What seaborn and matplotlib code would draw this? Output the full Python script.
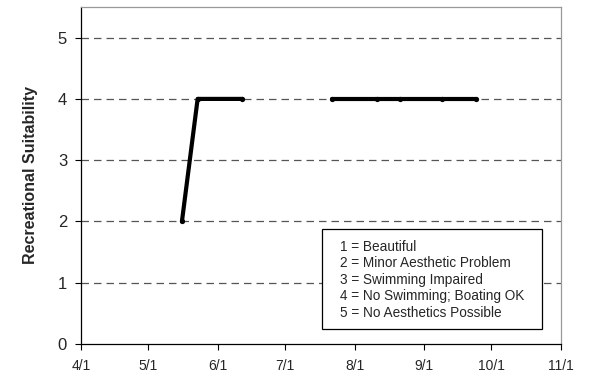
import matplotlib
matplotlib.use("Agg")
import matplotlib.pyplot as plt
from matplotlib.patches import Rectangle
import seaborn as sns
import pandas as pd
import numpy as np

sns.set_theme(style="white")
plt.rcParams['font.family'] = ['Liberation Sans', 'DejaVu Sans']

# Data
dates_a = ["2003-05-16", "2003-05-23", "2003-06-12"]
values_a = [2, 4, 4]
dates_b = ["2003-07-22", "2003-08-11", "2003-08-21", "2003-09-09", "2003-09-24"]
values_b = [4, 4, 4, 4, 4]
tick_dates = ["2003-04-01", "2003-05-01", "2003-06-01", "2003-07-01",
              "2003-08-01", "2003-09-01", "2003-10-01", "2003-11-01"]
tick_labels = ["4/1", "5/1", "6/1", "7/1", "8/1", "9/1", "10/1", "11/1"]
legend_lines = ["1 = Beautiful", "2 = Minor Aesthetic Problem", "3 = Swimming Impaired",
                "4 = No Swimming; Boating OK", "5 = No Aesthetics Possible"]

df_a = pd.DataFrame({"date": pd.to_datetime(dates_a), "value": values_a})
df_b = pd.DataFrame({"date": pd.to_datetime(dates_b), "value": values_b})

W, H = 589, 381
fig = plt.figure(figsize=(W / 100, H / 100), dpi=100)
ax = fig.add_axes([81 / W, 1 - 344 / H, (561 - 81) / W, (344 - 7) / H])

for y in [1, 2, 3, 4, 5]:
    ax.axhline(y, color="#555555", lw=0.9, ls=(0, (6, 4)), zorder=1)

for d in (df_a, df_b):
    sns.lineplot(data=d, x="date", y="value", ax=ax, color="black", lw=3.0,
                 marker="o", markersize=3.8, markeredgewidth=0, zorder=3, legend=False)

ax.set_xlim(pd.Timestamp(tick_dates[0]), pd.Timestamp(tick_dates[-1]))
ax.set_ylim(0, 5.5)
ax.set_xticks(pd.to_datetime(tick_dates))
ax.set_xticklabels(tick_labels, fontsize=10)
ax.set_yticks([0, 1, 2, 3, 4, 5])
ax.set_yticklabels(["0", "1", "2", "3", "4", "5"], fontsize=12)
ax.tick_params(axis="both", direction="out", length=4, width=0.8, color="black",
               bottom=True, left=True)
ax.tick_params(axis="x", pad=7)
ax.tick_params(axis="y", pad=6)
ax.set_xlabel("")
ax.set_ylabel("Recreational Suitability", fontsize=11.5, fontweight="bold", labelpad=14)

for side in ["left", "bottom"]:
    ax.spines[side].set_color("black")
    ax.spines[side].set_linewidth(0.9)
for side in ["top", "right"]:
    ax.spines[side].set_color("#999999")
    ax.spines[side].set_linewidth(0.9)

# legend box
x0, x1 = 0.502, 0.960
y0, y1 = 0.0445, 0.341
ax.add_patch(Rectangle((x0, y0), x1 - x0, y1 - y0, transform=ax.transAxes,
                       facecolor="white", edgecolor="black", lw=0.9, zorder=5))
ys = np.linspace(0.288, 0.092, len(legend_lines))
for yy, line in zip(ys, legend_lines):
    ax.text(0.54, yy, line, transform=ax.transAxes, fontsize=9.8,
            va="center", ha="left", zorder=6)

fig.savefig("out.png", dpi=100)
